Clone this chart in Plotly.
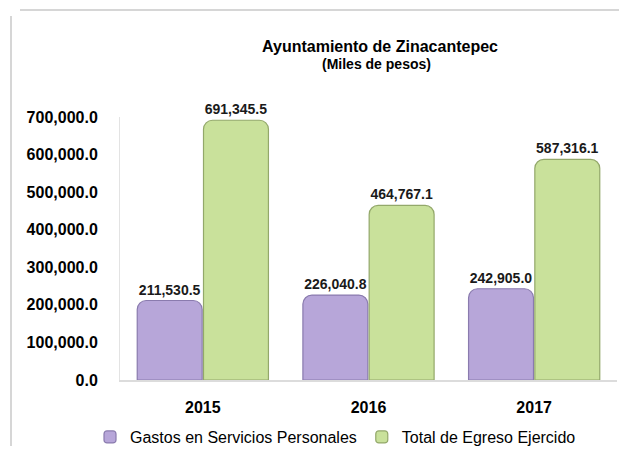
import plotly.graph_objects as go

categories = ["2015", "2016", "2017"]
gastos_personales = [211530.5, 226040.8, 242905.0]
total_egreso = [691345.5, 464767.1, 587316.1]
series_names = ["Gastos en Servicios Personales", "Total de Egreso Ejercido"]
y_ticks = [0, 100000, 200000, 300000, 400000, 500000, 600000, 700000]
title_line1 = "Ayuntamiento de Zinacantepec"
title_line2 = "(Miles de pesos)"

# the page body has an 8px default margin, so the figure is drawn 8px in
OFF = 8
W, H = 627 - OFF, 452 - OFF
ML, MR, MT, MB = 120 - OFF, 10, 117 - OFF, 72
PW, PH = W - ML - MR, H - MT - MB


def px_x(p):
    # p: pixel x in the window
    return (p - OFF - ML) / PW


def px_y(p):
    # p: pixel y in the window
    return (H - MB - (p - OFF)) / PH


FONT = "Liberation Sans, Arial, sans-serif"

fig = go.Figure()
fig.add_trace(go.Bar(
    x=categories, y=gastos_personales, name=series_names[0],
    marker=dict(color="#B7A6D9", line=dict(color="#8A7BAE", width=1.2)),
    text=[f"{v:,.1f}" for v in gastos_personales], textposition="outside",
    textfont=dict(family=FONT, size=14, color="#1a1a1a", weight="bold"),
    cliponaxis=False,
))
fig.add_trace(go.Bar(
    x=categories, y=total_egreso, name=series_names[1],
    marker=dict(color="#C9E19B", line=dict(color="#93A86A", width=1.2)),
    text=[f"{v:,.1f}" for v in total_egreso], textposition="outside",
    textfont=dict(family=FONT, size=14, color="#1a1a1a", weight="bold"),
    cliponaxis=False,
))

fig.update_layout(
    width=W, height=H,
    margin=dict(l=ML, r=MR, t=MT, b=MB, autoexpand=False),
    paper_bgcolor="white", plot_bgcolor="white",
    font=dict(family=FONT, color="black"),
    barmode="group", bargap=0.2, bargroupgap=0.02, barcornerradius=9,
    title=dict(
        text=f"<b>{title_line1}</b>",
        x=(380 - OFF) / W, xanchor="center", xref="container",
        y=1 - (46 - OFF) / H, yanchor="middle", yref="container",
        font=dict(family=FONT, size=16, color="black"),
    ),
    xaxis=dict(
        showgrid=False, showline=True, linecolor="#dcdcdc", linewidth=1.5,
        ticks="outside", ticklen=12, tickcolor="rgba(0,0,0,0)",
        tickfont=dict(family=FONT, size=16, color="black", weight="bold"),
    ),
    yaxis=dict(
        range=[0, 700000], tickvals=y_ticks, tickformat=",.1f",
        showgrid=False, showline=True, linecolor="#e3e3e3", linewidth=1,
        ticks="outside", ticklen=18, tickcolor="rgba(0,0,0,0)",
        tickfont=dict(family=FONT, size=16, color="black", weight="bold"),
        zeroline=False,
    ),
    legend=dict(
        orientation="h", x=px_x(90), xanchor="left", y=px_y(437), yanchor="middle",
        font=dict(family=FONT, size=16, color="black"),
        itemwidth=30, bgcolor="rgba(0,0,0,0)",
    ),
    showlegend=True,
)

fig.add_annotation(
    text=f"<b>{title_line2}</b>", xref="paper", yref="paper",
    x=px_x(376), y=px_y(64), xanchor="center", yanchor="middle",
    showarrow=False, font=dict(family=FONT, size=14, color="black"),
)

# chart frame (top and left edges, as in the reference)
fig.add_shape(type="line", xref="paper", yref="paper",
              x0=px_x(20), x1=px_x(623), y0=px_y(10), y1=px_y(10),
              line=dict(color="#d6d6d6", width=2), layer="below")
fig.add_shape(type="line", xref="paper", yref="paper",
              x0=px_x(11), x1=px_x(11), y0=px_y(16), y1=px_y(446),
              line=dict(color="#d6d6d6", width=2), layer="below")

fig.write_html("out.html")
